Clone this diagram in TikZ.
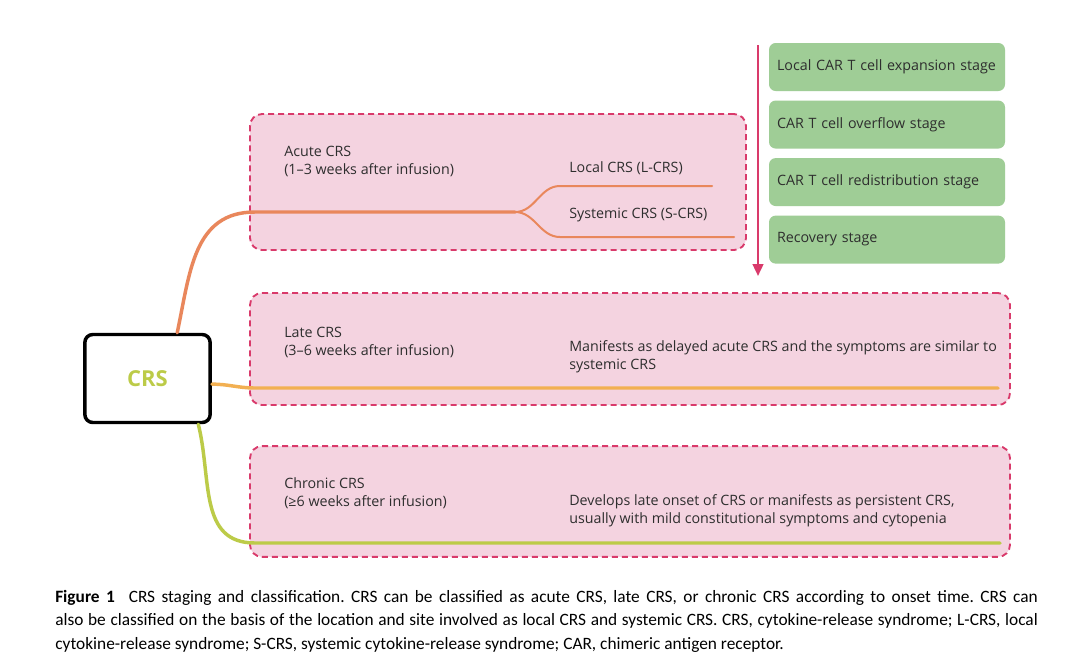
\documentclass[tikz,border=0pt]{standalone}
\usepackage{fontspec}
\setmainfont{Open Sans}
\newfontfamily\capfont{Carlito}
\usetikzlibrary{positioning,arrows.meta}
\definecolor{pinkfill}{HTML}{F4D3E0}
\definecolor{dashred}{HTML}{D93A6B}
\definecolor{brorange}{HTML}{E9875C}
\definecolor{bramber}{HTML}{F2B052}
\definecolor{brlime}{HTML}{BCCB48}
\definecolor{stagegreen}{HTML}{9FCD96}
\definecolor{txt}{HTML}{2E2E2E}

\tikzset{
  group/.style={draw=dashred,fill=pinkfill,dash pattern=on 4.5pt off 3pt,line width=1.4pt,rounded corners=9pt,inner sep=0pt},
  stage/.style={fill=stagegreen,rounded corners=5pt,minimum width=177pt,minimum height=36pt,text width=165pt,align=left,text=txt,font=\fontsize{10.7}{12}\selectfont},
  txtlabel/.style={anchor=west,inner sep=0pt,align=left,text=txt,font=\fontsize{10.7}{13.5}\selectfont},
  branch/.style={line width=2.6pt,line cap=round},
  twig/.style={line width=1.5pt,line cap=round,brorange}
}

\begin{document}
\begin{tikzpicture}[x=0.75pt,y=-0.75pt]
\useasboundingbox[fill=white] (0,0) rectangle (1080,665);

% group boxes
\node[group,minimum width=372pt,minimum height=102pt] (acute) at (498,182) {};
\node[group,minimum width=570pt,minimum height=84pt] (late) at (630,349) {};
\node[group,minimum width=570pt,minimum height=83pt] (chronic) at (630,501.5) {};

% root
\node[draw=black,line width=2.6pt,rounded corners=6pt,fill=white,minimum width=94pt,minimum height=66pt,
  text=brlime,font=\fontsize{16.5}{18}\selectfont\bfseries] (crs) at (147.5,378.5) {CRS};

% stages
\node[stage] (s1) at (887,67) {Local CAR T cell expansion stage};
\node[stage,below=6.75pt of s1] (s2) {CAR T cell overflow stage};
\node[stage,below=6.75pt of s2] (s3) {CAR T cell redistribution stage};
\node[stage,below=6.75pt of s3] (s4) {Recovery stage};

\coordinate (t0) at (758,45);
\coordinate (t1) at (758,276);
\draw[dashred,line width=1.8pt,-{Triangle[width=8pt,length=9pt]}] (t0) -- (t1);

% labels
\node[txtlabel] (acute-txt) at (284,161) {Acute CRS\\(1–3 weeks after infusion)};
\node[txtlabel] (lcrs) at (569,168) {Local CRS (L-CRS)};
\node[txtlabel] (scrs) at (569,215) {Systemic CRS (S-CRS)};
\node[txtlabel] (late-txt) at (284,342.5) {Late CRS\\(3–6 weeks after infusion)};
\node[txtlabel] (late-desc) at (569,356.5) {Manifests as delayed acute CRS and the symptoms are similar to\\systemic CRS};
\node[txtlabel] (chronic-txt) at (284,493.5) {Chronic CRS\\(≥6 weeks after infusion)};
\node[txtlabel] (chronic-desc) at (569,510.5) {Develops late onset of CRS or manifests as persistent CRS,\\usually with mild constitutional symptoms and cytopenia};

% branches
\coordinate (acute-in) at (255,212);
\coordinate (fork) at (515,212);
\coordinate (lcrs-in) at (560,186);
\coordinate (lcrs-end) at (712,186);
\coordinate (scrs-in) at (560,237);
\coordinate (scrs-end) at (734,237);
\coordinate (late-in) at (255,388);
\coordinate (late-end) at (998,388);
\coordinate (chronic-in) at (255,543);
\coordinate (chronic-end) at (1000,543);

\draw[branch,brorange] (crs.57) to[out=78,in=180,looseness=1.1] (acute-in) -- (fork);
\draw[twig] (fork) to[out=0,in=180] (lcrs-in) -- (lcrs-end);
\draw[twig] (fork) to[out=0,in=180] (scrs-in) -- (scrs-end);
\draw[branch,bramber] (crs.-5) to[out=0,in=180] (late-in) -- (late-end);
\draw[branch,brlime] (crs.-42) to[out=-76,in=180,looseness=1.1] (chronic-in) -- (chronic-end);

% caption
\node[anchor=north west,inner sep=0pt,text width=737pt,align=justify,text=black,
  font=\capfont\frenchspacing\fontsize{13}{17.6}\selectfont] (caption) at (55,590)
  {\textbf{Figure 1}\hspace{0.8em}CRS staging and classification. CRS can be classified as acute CRS, late CRS, or chronic CRS according to onset time. CRS can\linebreak
  also be classified on the basis of the location and site involved as local CRS and systemic CRS. CRS, cytokine-release syndrome; L-CRS, local\linebreak
  cytokine-release syndrome; S-CRS, systemic cytokine-release syndrome; CAR, chimeric antigen receptor.};
\end{tikzpicture}
\end{document}
